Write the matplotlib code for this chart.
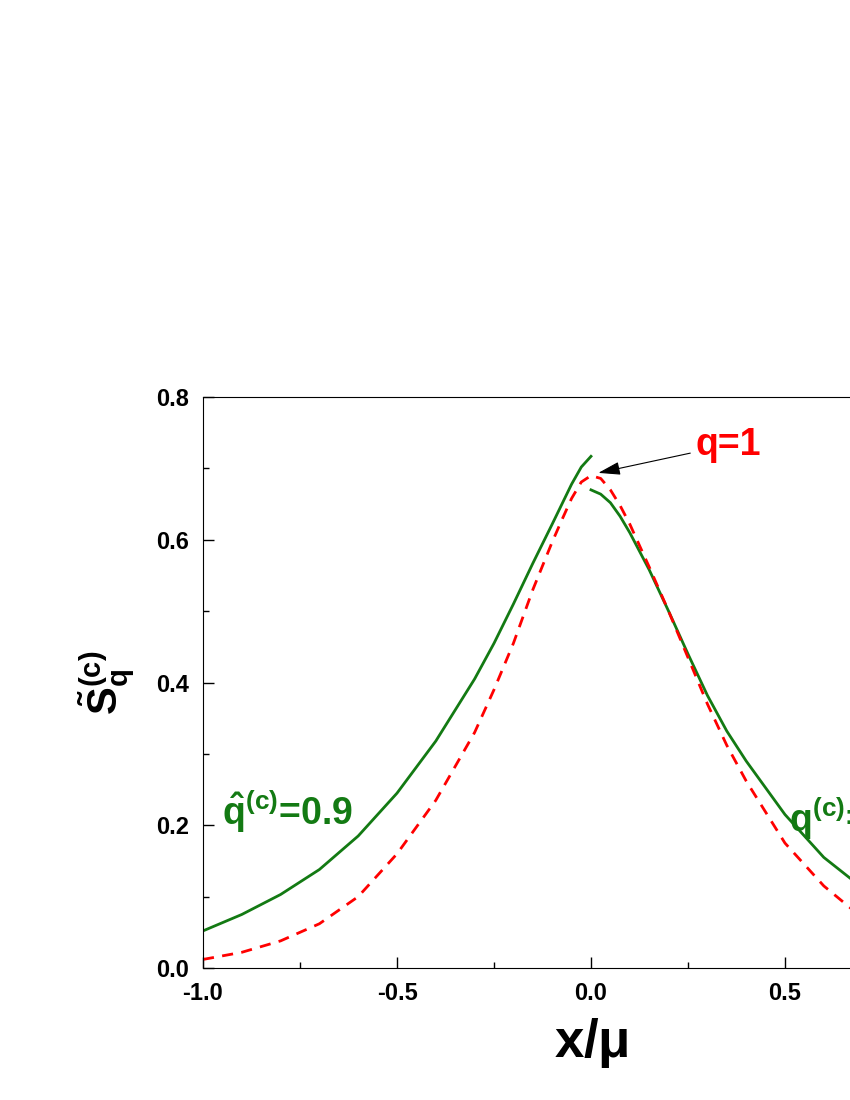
import matplotlib
matplotlib.use("Agg")
import matplotlib.pyplot as plt
from matplotlib.ticker import MultipleLocator

plt.rcParams["font.family"] = "Liberation Sans"
plt.rcParams["font.weight"] = "bold"
plt.rcParams["mathtext.fontset"] = "custom"
plt.rcParams["mathtext.rm"] = "Liberation Sans:bold"
plt.rcParams["mathtext.bf"] = "Liberation Sans:bold"
plt.rcParams["mathtext.it"] = "Liberation Sans:bold"

# green, x<0 branch
xg_left = [-1.0, -0.9, -0.8, -0.7, -0.6, -0.5, -0.4, -0.3, -0.25, -0.2, -0.15, -0.1,
           -0.075, -0.05, -0.025, 0.0]
yg_left = [0.052, 0.075, 0.103, 0.138, 0.185, 0.245, 0.318, 0.405, 0.455, 0.51, 0.567, 0.622,
           0.65, 0.678, 0.702, 0.717]
# green, x>0 branch
xg_right = [0.0, 0.025, 0.05, 0.075, 0.1, 0.15, 0.2, 0.25, 0.3, 0.35, 0.4, 0.5, 0.6, 0.7,
            0.8, 0.9, 1.0]
yg_right = [0.67, 0.664, 0.652, 0.633, 0.61, 0.558, 0.5, 0.44, 0.382, 0.332, 0.29, 0.215,
            0.155, 0.112, 0.082, 0.062, 0.048]
# red dashed q=1
xr = [-1.0, -0.9, -0.8, -0.7, -0.6, -0.5, -0.4, -0.3, -0.25, -0.2, -0.15, -0.1, -0.075,
      -0.05, -0.025, 0.0, 0.025, 0.05, 0.075, 0.1, 0.15, 0.2, 0.25, 0.3, 0.35, 0.4, 0.5,
      0.6, 0.7, 0.8, 0.9, 1.0]
yr = [0.012, 0.022, 0.038, 0.062, 0.1, 0.16, 0.235, 0.33, 0.39, 0.455, 0.53, 0.597, 0.628,
      0.658, 0.681, 0.69, 0.686, 0.67, 0.648, 0.622, 0.562, 0.5, 0.435, 0.37, 0.312, 0.262,
      0.175, 0.115, 0.07, 0.045, 0.03, 0.02]

fig = plt.figure(figsize=(8.5, 11), dpi=100)
ax = fig.add_axes([203 / 850, 0.12, 776 / 850, 0.519])

green = "#137a13"
ax.plot(xg_left, yg_left, color=green, lw=2)
ax.plot(xg_right, yg_right, color=green, lw=2)
ax.plot(xr, yr, color="red", lw=2, ls=(0, (4, 3)))

ax.set_xlim(-1.0, 1.0)
ax.set_ylim(0.0, 0.8)
ax.xaxis.set_minor_locator(MultipleLocator(0.25))
ax.yaxis.set_major_locator(MultipleLocator(0.2))
ax.yaxis.set_minor_locator(MultipleLocator(0.1))
ax.set_xticks([-1.0, -0.5, 0.0, 0.5, 1.0])
ax.set_xticklabels(["-1.0", "-0.5", "0.0", "0.5", "1.0"])
ax.tick_params(which="both", direction="in", labelsize=17, width=1, pad=10)
ax.tick_params(which="major", length=8)
ax.tick_params(which="minor", length=4)
for lab in ax.get_xticklabels() + ax.get_yticklabels():
    lab.set_fontweight("bold")

ax.set_xlabel(r"x/$\mathbf{\mu}$", fontsize=38, fontweight="bold", labelpad=8)
ax.set_ylabel(r"$\tilde{\mathbf{S}}_{\mathbf{q}}^{\mathbf{(c)}}$", fontsize=30, labelpad=14)

ax.annotate("q=1", xy=(0.012, 0.693), xytext=(0.27, 0.733), color="red",
            fontsize=27, fontweight="bold", va="center",
            arrowprops=dict(arrowstyle="-|>,head_length=0.5,head_width=0.15",
                            color="black", lw=0.8))
ax.text(-0.95, 0.2, r"$\hat{\mathbf{q}}^{\mathbf{(c)}}$=0.9", color=green,
        fontsize=27, fontweight="bold")
ax.text(0.51, 0.19, r"$\mathbf{q}^{\mathbf{(c)}}$=0.9", color=green,
        fontsize=27, fontweight="bold")

fig.savefig("out.png", dpi=100)
